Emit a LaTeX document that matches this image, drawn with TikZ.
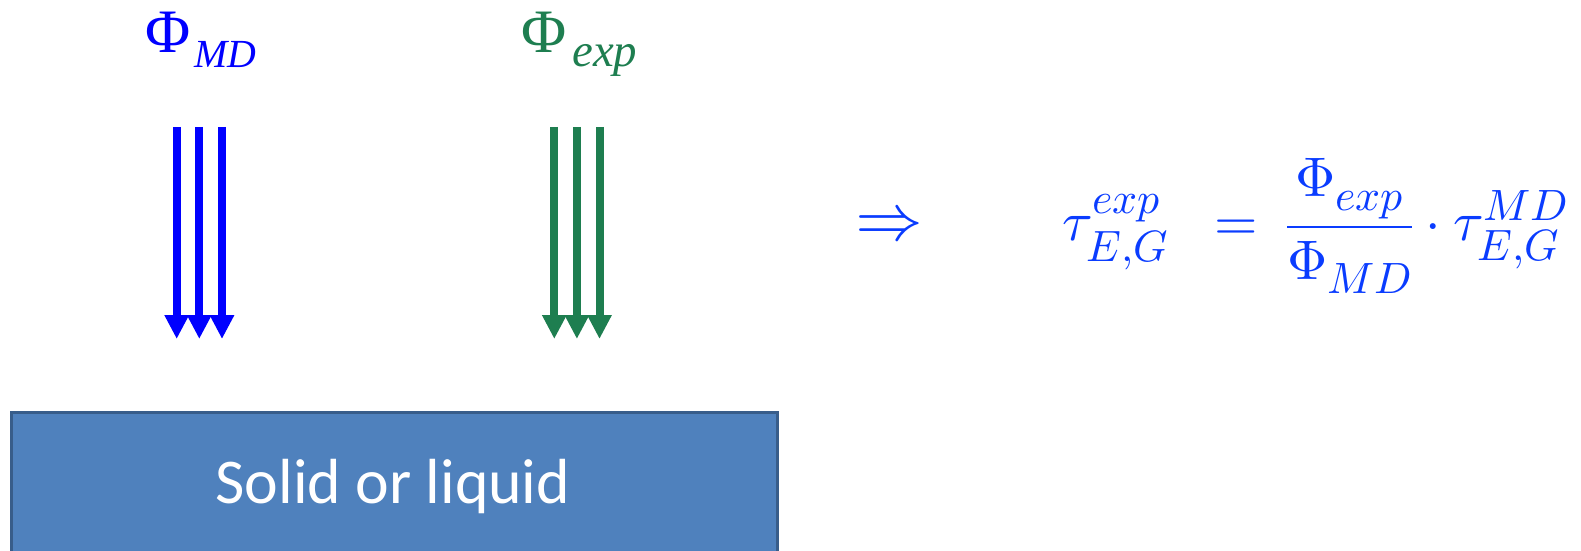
\documentclass[tikz,border=0pt]{standalone}
\usepackage{fontspec}
\usepackage{unicode-math}
\setmathfont{Latin Modern Math}
\DeclareMathSizes{56}{56}{44}{34}
\usetikzlibrary{arrows.meta}
\newfontfamily\labelfont{Liberation Serif}
\newfontfamily\boxfont{Carlito}
\definecolor{fluxblue}{RGB}{0,0,255}
\definecolor{fluxgreen}{RGB}{30,126,80}
\definecolor{eqblue}{RGB}{10,60,255}
\definecolor{slabfill}{RGB}{79,129,189}
\definecolor{slabedge}{RGB}{56,93,138}
\tikzset{
  beam/.style={line width=8bp, -{Triangle[width=23bp,length=24bp]}},
  fluxlabel/.style={inner sep=0pt, anchor=base west, font=\labelfont},
  eqpart/.style={text=eqblue, font=\fontsize{56}{60}\selectfont, inner sep=0pt},
}
\begin{document}
\begin{tikzpicture}[x=1bp,y=-1bp]
\useasboundingbox (0,0) rectangle (1581,551);
% flux labels
\node[fluxlabel, text=fluxblue] (phimd) at (145,53)
  {\fontsize{62}{64}\selectfont Φ\kern4bp\raisebox{-15bp}{\fontsize{40}{45}\selectfont\itshape MD}};
\node[fluxlabel, text=fluxgreen] (phiexp) at (521,53)
  {\fontsize{62}{64}\selectfont Φ\kern6bp\raisebox{-14bp}{\fontsize{47}{45}\selectfont\itshape exp}};
% incoming beams
\foreach \x [count=\i] in {176.7,199.3,222} {
  \coordinate (bs\i) at (\x,127);
  \coordinate (be\i) at (\x,339);
  \draw[beam, fluxblue] (bs\i) -- (be\i);
}
\foreach \x [count=\i] in {554.3,576.9,599.5} {
  \coordinate (gs\i) at (\x,127);
  \coordinate (ge\i) at (\x,339);
  \draw[beam, fluxgreen] (gs\i) -- (ge\i);
}
% sample
\node[draw=slabedge, line width=3bp, fill=slabfill, minimum width=766bp, minimum height=150bp,
      anchor=north west, inner sep=0pt] (slab) at (10,411) {};
\node[text=white, font=\boxfont\fontsize{64}{70}\selectfont, anchor=base] (slabtext) at (393,503) {Solid or liquid};
% scaling relation
\node[text=eqblue, font=\fontsize{68}{68}\selectfont, inner sep=0pt] (impl) at (889,224) {$\Rightarrow$};
\node[eqpart, anchor=base west] (lhs) at (1062,241) {$\tau^{exp}_{E,G}$};
\node[eqpart, anchor=base] (eqsign) at (1236,241) {$=$};
\node[eqpart, anchor=base west] (rhs) at (1286,241)
  {$\displaystyle\frac{\Phi_{exp}}{\Phi_{MD}}\cdot\tau^{MD}_{E,G}$};
\end{tikzpicture}
\end{document}
